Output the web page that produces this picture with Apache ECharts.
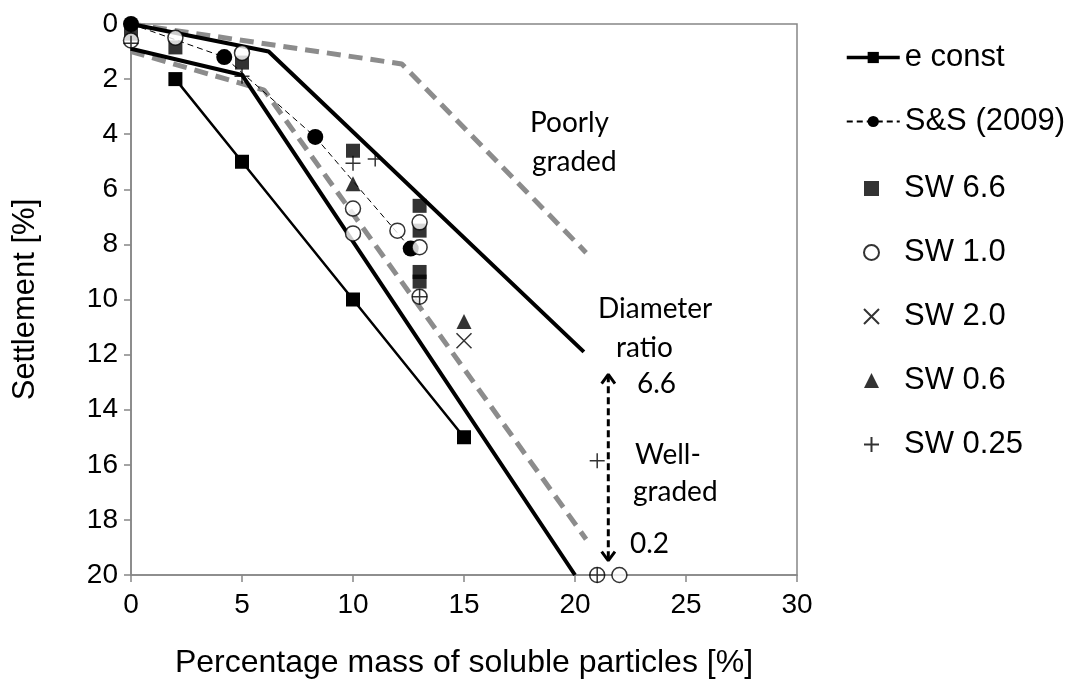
<!DOCTYPE html>
<html><head><meta charset="utf-8">
<script src="https://cdn.jsdelivr.net/npm/echarts@6/dist/echarts.min.js"></script>
<style>html,body{margin:0;padding:0;background:#fff}#c{width:1075px;height:684px}</style>
</head><body><div id="c"></div>
<script>
// ---- data ----
const xTicks = [0, 5, 10, 15, 20, 25, 30];
const yTicks = [0, 2, 4, 6, 8, 10, 12, 14, 16, 18, 20];

const eConstX = [2, 5, 10, 15];
const eConstY = [2, 5, 10, 15];

const envUpperX = [0, 6.2, 20.4];
const envUpperY = [0, 1.0, 11.9];
const envLowerX = [0, 5, 20];
const envLowerY = [0.9, 1.85, 20];

const grayUpperX = [0, 12.2, 20.5];
const grayUpperY = [0, 1.45, 8.3];
const grayLowerX = [0, 6, 20.5];
const grayLowerY = [1.0, 2.4, 18.7];

const ssX = [0, 4.2, 8.3, 12.6];
const ssY = [0, 1.2, 4.1, 8.15];

const sw66 = [[0,0.35],[2,0.85],[5,1.4],[10,4.6],[13,6.6],[13,7.5],[13,9.0],[13,9.35]];
const sw10 = [[0,0.6],[2,0.5],[5,1.05],[10,6.7],[10,7.6],[12,7.5],[13,7.2],[13,8.1],[13,9.9],[21,20],[22,20]];
const sw20 = [[15,11.5]];
const sw06 = [[10,5.8],[15,10.8]];
const sw025 = [[0,0.7],[5,1.9],[10,5.05],[11,4.9],[13,9.9],[21,15.85],[21,20]];

const arrowX = [21.5, 21.5];
const arrowY = [12.75, 19.45];
const arrowTopX = [21.2, 21.5, 21.8];
const arrowTopY = [13.05, 12.72, 13.05];
const arrowBotX = [21.2, 21.5, 21.8];
const arrowBotY = [19.15, 19.48, 19.15];

const legendLines = ['e const', 'S&S (2009)'];
const legendMarks = ['SW 6.6', 'SW 1.0', 'SW 2.0', 'SW 0.6', 'SW 0.25'];

// ---- helpers ----
const zip = (xs, ys) => xs.map((x, i) => [x, ys[i]]);
const AX = '#868686';
const PLUS = 'path://M5,0L5,10M0,5L10,5';
const CROSS = 'path://M0,0L10,10M10,0L0,10';
const TXT = {fontFamily: 'Lato', fontSize: 28, fill: '#000'};
const LEGTXT = {fontFamily: 'Liberation Sans', fontSize: 31, color: '#000', lineHeight: 30};

function lineS(name, data, width, color, type, z) {
  return {name, type: 'line', data, symbol: 'none', silent: true, z: z || 2,
    lineStyle: {width, color, type}, itemStyle: {color}};
}
function scat(name, data, symbol, size, style) {
  return {name, type: 'scatter', data, symbol, symbolSize: size, z: 5, silent: true, itemStyle: style};
}

const chart = echarts.init(document.getElementById('c'), null, {renderer: 'canvas'});
chart.setOption({
  animation: false,
  backgroundColor: '#fff',
  grid: {left: 131, right: 278, top: 24, bottom: 109, show: true, borderColor: AX, borderWidth: 1.5},
  xAxis: {
    type: 'value', min: xTicks[0], max: xTicks[xTicks.length - 1], interval: 5,
    name: 'Percentage mass of soluble particles [%]', nameLocation: 'middle', nameGap: 72,
    nameTextStyle: {fontFamily: 'Liberation Sans', fontSize: 32, color: '#000'},
    axisLine: {onZero: false, lineStyle: {color: AX, width: 1.5}},
    axisTick: {show: true, inside: false, length: 7, lineStyle: {color: AX, width: 1.5}},
    axisLabel: {margin: 16, fontFamily: 'Liberation Sans', fontSize: 28, color: '#000'},
    splitLine: {show: false}
  },
  yAxis: {
    type: 'value', inverse: true, min: yTicks[0], max: yTicks[yTicks.length - 1], interval: 2,
    name: 'Settlement [%]', nameLocation: 'middle', nameGap: 90, nameRotate: 90,
    nameTextStyle: {fontFamily: 'Liberation Sans', fontSize: 31, color: '#000'},
    axisLine: {onZero: false, lineStyle: {color: AX, width: 1.5}},
    axisTick: {show: true, inside: false, length: 7, lineStyle: {color: AX, width: 1.5}},
    axisLabel: {margin: 13, fontFamily: 'Liberation Sans', fontSize: 28, color: '#000'},
    splitLine: {show: false}
  },
  legend: [
    {data: [{name: legendLines[0], lineStyle: {width: 3.5}}, legendLines[1]],
      orient: 'vertical', left: 840, top: 37,
      itemWidth: 53, itemHeight: 14, itemGap: 33, textStyle: LEGTXT, selectedMode: false},
    {data: legendMarks, orient: 'vertical', left: 858, top: 168,
      itemWidth: 15, itemHeight: 15, itemGap: 33,
      textStyle: Object.assign({padding: [0, 0, 0, 20]}, LEGTXT), selectedMode: false}
  ],
  series: [
    lineS('grayU', zip(grayUpperX, grayUpperY), 5, '#8c8c8c', [14, 8], 1),
    lineS('grayL', zip(grayLowerX, grayLowerY), 5, '#8c8c8c', [14, 8], 1),
    lineS('envU', zip(envUpperX, envUpperY), 4, '#000', 'solid', 2),
    lineS('envL', zip(envLowerX, envLowerY), 4, '#000', 'solid', 2),
    {name: 'e const', type: 'line', data: zip(eConstX, eConstY), symbol: 'rect', symbolSize: 14,
      z: 3, silent: true, lineStyle: {width: 2.5, color: '#000'}, itemStyle: {color: '#000'}},
    {name: 'S&S (2009)', type: 'line', data: zip(ssX, ssY), symbol: 'circle', symbolSize: 16,
      z: 4, silent: true, lineStyle: {width: 1, color: '#000', type: [6, 4]}, itemStyle: {color: '#000'}},
    scat('SW 6.6', sw66, 'rect', 14, {color: '#000'}),
    scat('SW 1.0', sw10, 'circle', 15, {color: '#fff', borderColor: '#000', borderWidth: 1.5}),
    scat('SW 2.0', sw20, CROSS, 15, {color: '#000', borderColor: '#000', borderWidth: 1.5}),
    scat('SW 0.6', sw06, 'triangle', 15, {color: '#000'}),
    scat('SW 0.25', sw025, PLUS, 15, {color: '#000', borderColor: '#000', borderWidth: 1.5}),
    lineS('arrow', zip(arrowX, arrowY), 3, '#000', [7, 4], 6),
    lineS('arrowT', zip(arrowTopX, arrowTopY), 3, '#000', 'solid', 6),
    lineS('arrowB', zip(arrowBotX, arrowBotY), 3, '#000', 'solid', 6)
  ],
  graphic: [
    {type: 'text', left: 530, top: 109, style: Object.assign({text: 'Poorly'}, TXT)},
    {type: 'text', left: 532, top: 148, style: Object.assign({text: 'graded'}, TXT)},
    {type: 'text', left: 598, top: 295, style: Object.assign({text: 'Diameter'}, TXT)},
    {type: 'text', left: 616, top: 334, style: Object.assign({text: 'ratio'}, TXT)},
    {type: 'text', left: 637, top: 370, style: Object.assign({text: '6.6'}, TXT)},
    {type: 'text', left: 635, top: 441, style: Object.assign({text: 'Well-'}, TXT)},
    {type: 'text', left: 633, top: 478, style: Object.assign({text: 'graded'}, TXT)},
    {type: 'text', left: 630, top: 530, style: Object.assign({text: '0.2'}, TXT)}
  ]
});
</script></body></html>
